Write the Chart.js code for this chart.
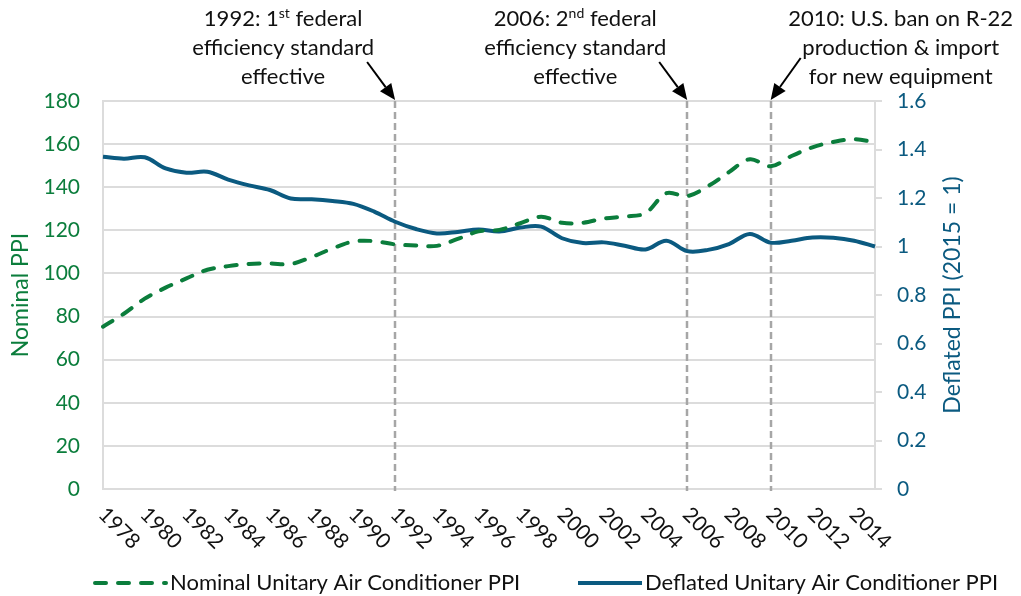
<!DOCTYPE html>
<html>
<head>
<meta charset="utf-8">
<script src="https://cdn.jsdelivr.net/npm/chart.js@4.4.1/dist/chart.umd.min.js"></script>
<style>
  html, body { margin: 0; padding: 0; background: #fff; }
  #wrap { width: 1021px; height: 596px; position: relative; }
</style>
</head>
<body>
<div id="wrap"><canvas id="chart"></canvas></div>
<script>
// data
const years = ['1978', '1979', '1980', '1981', '1982', '1983', '1984', '1985', '1986', '1987',
  '1988', '1989', '1990', '1991', '1992', '1993', '1994', '1995', '1996', '1997',
  '1998', '1999', '2000', '2001', '2002', '2003', '2004', '2005', '2006', '2007',
  '2008', '2009', '2010', '2011', '2012', '2013', '2014', '2015'];

const nominalPPI = [75.3, 81.3, 88.3, 93.4, 97.7, 101.7, 103.4, 104.4, 104.6, 104.4,
  107.6, 111.6, 114.8, 115.0, 113.5, 113.0, 112.8, 116.0, 119.5, 120.2,
  123.3, 126.3, 123.5, 123.5, 125.5, 126.4, 128.0, 137.2, 135.9, 140.5,
  147.0, 153.0, 149.7, 154.5, 158.5, 161.0, 162.3, 160.8];

const deflatedPPI = [1.370, 1.362, 1.368, 1.322, 1.304, 1.308, 1.276, 1.252, 1.233, 1.198,
  1.195, 1.188, 1.176, 1.144, 1.102, 1.072, 1.054, 1.060, 1.070, 1.062,
  1.078, 1.082, 1.034, 1.014, 1.017, 1.003, 0.988, 1.024, 0.981, 0.986,
  1.010, 1.052, 1.016, 1.024, 1.037, 1.036, 1.024, 1.000];

const yearTicks = ['1978', '1980', '1982', '1984', '1986', '1988', '1990', '1992', '1994', '1996',
  '1998', '2000', '2002', '2004', '2006', '2008', '2010', '2012', '2014'];

const eventYears = ['1992', '2006', '2010'];
// ^...^ marks superscript text
const eventNotes = [
  ['1992: 1^st^ federal', 'efficiency standard', 'effective'],
  ['2006: 2^nd^ federal', 'efficiency standard', 'effective'],
  ['2010: U.S. ban on R-22', 'production & import', 'for new equipment']
];

const seriesNames = ['Nominal Unitary Air Conditioner PPI', 'Deflated Unitary Air Conditioner PPI'];

// styles
const FONT = 'Lato, "Open Sans", sans-serif';
const GREEN = '#0b7d3c';
const BLUE = '#0b5a80';
const GRID = '#dcdcdc';
const EVENT_LINE = '#a6a6a6';
const TEXT = '#111111';
// note placement relative to the event line: text centre dx, arrow tail dx/dy
const notePlace = [
  { dx: -112, tailDx: -28, tailY: 62 },
  { dx: -112, tailDx: -28, tailY: 62 },
  { dx: 130, tailDx: 30, tailY: 58 }
];

function drawRich(ctx, str, cx, y, size) {
  const parts = str.split('^');
  const supSize = Math.round(size * 0.63);
  let total = 0;
  const widths = parts.map((p, i) => {
    ctx.font = (i % 2 ? supSize : size) + 'px ' + FONT;
    const w = ctx.measureText(p).width;
    total += w;
    return w;
  });
  let x = cx - total / 2;
  ctx.textAlign = 'left';
  parts.forEach((p, i) => {
    const sup = i % 2 === 1;
    ctx.font = (sup ? supSize : size) + 'px ' + FONT;
    ctx.fillText(p, x, sup ? y - 6 : y);
    x += widths[i];
  });
}

function arrow(ctx, x1, y1, x2, y2) {
  const a = Math.atan2(y2 - y1, x2 - x1);
  const len = 16, half = 7;
  const bx = x2 - len * Math.cos(a), by = y2 - len * Math.sin(a);
  ctx.beginPath();
  ctx.moveTo(x1, y1);
  ctx.lineTo(bx, by);
  ctx.lineWidth = 2;
  ctx.strokeStyle = '#000';
  ctx.stroke();
  ctx.beginPath();
  ctx.moveTo(x2, y2);
  ctx.lineTo(bx + half * Math.sin(a), by - half * Math.cos(a));
  ctx.lineTo(bx - half * Math.sin(a), by + half * Math.cos(a));
  ctx.closePath();
  ctx.fillStyle = '#000';
  ctx.fill();
}

const overlayPlugin = {
  id: 'overlay',
  beforeDatasetsDraw(chart) {
    const { ctx, chartArea, scales } = chart;
    ctx.save();
    ctx.strokeStyle = EVENT_LINE;
    ctx.lineWidth = 2.5;
    ctx.setLineDash([7, 4]);
    eventYears.forEach(y => {
      const x = Math.round(scales.x.getPixelForValue(years.indexOf(y)));
      ctx.beginPath();
      ctx.moveTo(x, chartArea.top);
      ctx.lineTo(x, chartArea.bottom + 2);
      ctx.stroke();
    });
    ctx.restore();
  },
  afterDraw(chart) {
    const { ctx, chartArea, scales } = chart;
    ctx.save();

    // rotated year labels
    ctx.fillStyle = TEXT;
    ctx.font = '21px ' + FONT;
    ctx.textAlign = 'left';
    ctx.textBaseline = 'middle';
    yearTicks.forEach(t => {
      const x = scales.x.getPixelForValue(years.indexOf(t));
      ctx.save();
      ctx.translate(x - 1, chartArea.bottom + 22);
      ctx.rotate(Math.PI / 4);
      ctx.fillText(t, 0, 0);
      ctx.restore();
    });

    // axis titles
    const midY = (chartArea.top + chartArea.bottom) / 2;
    ctx.font = '23px ' + FONT;
    ctx.textAlign = 'center';
    ctx.save();
    ctx.translate(21, midY);
    ctx.rotate(-Math.PI / 2);
    ctx.fillStyle = GREEN;
    ctx.fillText('Nominal PPI', 0, 0);
    ctx.restore();
    ctx.save();
    ctx.translate(953, midY);
    ctx.rotate(-Math.PI / 2);
    ctx.fillStyle = BLUE;
    ctx.fillText('Deflated PPI (2015 = 1)', 0, 0);
    ctx.restore();

    // event notes and arrows
    ctx.textBaseline = 'middle';
    eventYears.forEach((y, i) => {
      const x = scales.x.getPixelForValue(years.indexOf(y));
      const p = notePlace[i];
      eventNotes[i].forEach((line, j) => {
        ctx.fillStyle = TEXT;
        drawRich(ctx, line, x + p.dx, 19 + j * 29, 22);
      });
      arrow(ctx, x + p.tailDx, p.tailY, x, chartArea.top - 1);
    });

    // legend
    const ly = 583;
    ctx.lineWidth = 4;
    ctx.lineCap = 'round';
    ctx.strokeStyle = GREEN;
    ctx.setLineDash([11, 12]);
    ctx.beginPath();
    ctx.moveTo(95, ly);
    ctx.lineTo(166, ly);
    ctx.stroke();
    ctx.setLineDash([]);
    ctx.lineCap = 'butt';
    ctx.strokeStyle = BLUE;
    ctx.beginPath();
    ctx.moveTo(578, ly);
    ctx.lineTo(642, ly);
    ctx.stroke();
    ctx.fillStyle = TEXT;
    ctx.font = '22px ' + FONT;
    ctx.textAlign = 'left';
    ctx.fillText(seriesNames[0], 170, ly);
    ctx.fillText(seriesNames[1], 645, ly);

    ctx.restore();
  }
};

const ctx = document.getElementById('chart').getContext('2d');
new Chart(ctx, {
  type: 'line',
  data: {
    labels: years,
    datasets: [
      {
        label: seriesNames[0],
        data: nominalPPI,
        yAxisID: 'yNominal',
        borderColor: GREEN,
        borderWidth: 4,
        borderDash: [11, 12],
        borderCapStyle: 'round',
        pointRadius: 0,
        tension: 0.35,
        fill: false
      },
      {
        label: seriesNames[1],
        data: deflatedPPI,
        yAxisID: 'yDeflated',
        borderColor: BLUE,
        borderWidth: 4,
        pointRadius: 0,
        tension: 0.35,
        fill: false
      }
    ]
  },
  options: {
    responsive: true,
    maintainAspectRatio: false,
    animation: false,
    layout: { padding: { top: 101, left: 0, right: 0, bottom: 0 } },
    plugins: {
      legend: { display: false },
      tooltip: { enabled: false }
    },
    scales: {
      x: {
        offset: false,
        grid: { display: false },
        border: { display: true, color: GRID, width: 2 },
        ticks: { display: false },
        afterFit: s => { s.height = 107; }
      },
      yNominal: {
        position: 'left',
        min: 0,
        max: 180,
        ticks: { stepSize: 20, color: GREEN, padding: 23, font: { family: FONT, size: 21 } },
        grid: { color: GRID, lineWidth: 2, drawTicks: false },
        border: { display: true, color: GRID, width: 2 },
        afterFit: s => { s.width = 103; }
      },
      yDeflated: {
        position: 'right',
        min: 0,
        max: 1.6,
        ticks: {
          stepSize: 0.2,
          color: BLUE,
          padding: 15,
          font: { family: FONT, size: 21 },
          callback: v => String(+v.toFixed(1))
        },
        grid: { drawOnChartArea: false, drawTicks: true, tickLength: 7, color: GRID, lineWidth: 2 },
        border: { display: true, color: GRID, width: 2 },
        afterFit: s => { s.width = 146; }
      }
    }
  },
  plugins: [overlayPlugin]
});
</script>
</body>
</html>
